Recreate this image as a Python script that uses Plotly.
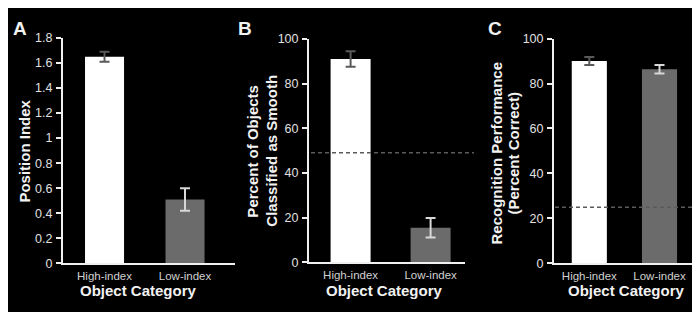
import plotly.graph_objects as go

W, H = 700, 312

categories = ["High-index", "Low-index"]

# Panel A: Position Index
a_values = [1.65, 0.51]
a_errors = [0.04, 0.09]
a_ticks = [0, 0.2, 0.4, 0.6, 0.8, 1.0, 1.2, 1.4, 1.6, 1.8]
a_ticktext = ["0", "0.2", "0.4", "0.6", "0.8", "1", "1.2", "1.4", "1.6", "1.8"]

# Panel B: Percent classified as smooth
b_values = [91, 15.5]
b_errors = [3.5, 4.4]
b_chance = 49
b_ticks = [0, 20, 40, 60, 80, 100]

# Panel C: Recognition performance
c_values = [90, 86.4]
c_errors = [1.8, 1.9]
c_chance = 25
c_ticks = [0, 20, 40, 60, 80, 100]

bar_colors = ["#ffffff", "#6b6b6b"]
err_colors = ["#5a5a5a", "#d8d8d8"]
xpos = [0, 1]

FONT = "Liberation Sans, Arial, sans-serif"

def px_x(p):
    return p / W

def px_y(p):
    return 1 - p / H

panels = [
    dict(vals=a_values, errs=a_errors, ax="", xd=[55, 227], yd=[260, 24], yr=[0, 1.8],
         xr=[-0.516, 1.621], bw=0.485, ticks=a_ticks, ticktext=a_ticktext, errw=5),
    dict(vals=b_values, errs=b_errors, ax="2", xd=[301, 457], yd=[259, 25], yr=[0, 100],
         xr=[-0.52, 1.43], bw=0.5, ticks=b_ticks, ticktext=[str(t) for t in b_ticks], errw=5),
    dict(vals=c_values, errs=c_errors, ax="3", xd=[546, 688], yd=[260, 24.7], yr=[0, 100],
         xr=[-0.503, 1.52], bw=0.5, ticks=c_ticks, ticktext=[str(t) for t in c_ticks], errw=5),
]

fig = go.Figure()
layout = {}
for p in panels:
    for i in range(2):
        fig.add_trace(go.Bar(
            x=[xpos[i]], y=[p["vals"][i]], width=p["bw"],
            marker=dict(color=bar_colors[i], line=dict(width=0)),
            error_y=dict(type="data", array=[p["errs"][i]], color=err_colors[i],
                         thickness=2, width=p["errw"]),
            xaxis="x" + p["ax"], yaxis="y" + p["ax"], showlegend=False,
        ))
    ax = p["ax"]
    layout["xaxis" + ax] = dict(
        domain=[px_x(p["xd"][0]), px_x(p["xd"][1])], range=p["xr"],
        anchor="y" + ax, tickvals=xpos, ticktext=categories, ticks="",
        showline=True, linecolor="#f0f0f0", linewidth=2, showgrid=False, zeroline=False,
        tickfont=dict(family=FONT, size=11.5, color="#d0d0d0"), ticklabelstandoff=1,
    )
    layout["yaxis" + ax] = dict(
        domain=[px_y(p["yd"][0]), px_y(p["yd"][1])], range=p["yr"],
        anchor="x" + ax, tickvals=p["ticks"], ticktext=p["ticktext"], ticks="outside",
        ticklen=5, tickwidth=2, tickcolor="#f0f0f0",
        showline=True, linecolor="#f0f0f0", linewidth=2, showgrid=False, zeroline=False,
        tickfont=dict(family=FONT, size=12.5, color="#e0e0e0"), ticklabelstandoff=1,
    )

shapes = [
    dict(type="line", xref="paper", yref="y2", x0=px_x(303), x1=px_x(466),
         y0=b_chance, y1=b_chance, line=dict(color="#5a5a5a", width=1.5, dash="4px,3px"),
         layer="above"),
    dict(type="line", xref="paper", yref="y3", x0=px_x(547), x1=px_x(688),
         y0=c_chance, y1=c_chance, line=dict(color="#5a5a5a", width=1.5, dash="4px,3px"),
         layer="above"),
]

def ann(text, x, y, size, angle=0, bold=True):
    return dict(text=("<b>%s</b>" % text) if bold else text, x=px_x(x), y=px_y(y),
                xref="paper", yref="paper", showarrow=False, textangle=angle,
                font=dict(family=FONT, size=size, color="#f2f2f2"),
                xanchor="center", yanchor="middle")

annotations = [
    ann("A", 12, 14, 19),
    ann("B", 237, 14, 19),
    ann("C", 487, 14, 19),
    ann("Object Category", 130, 288, 15),
    ann("Object Category", 376, 288, 15),
    ann("Object Category", 618, 288, 15),
    ann("Position Index", 17, 143, 15, -90),
    ann("Percent of Objects", 245, 142, 15, -90),
    ann("Classified as Smooth", 264, 142, 15, -90),
    ann("Recognition Performance", 488, 145, 15, -90),
    ann("(Percent Correct)", 505, 145, 15, -90),
]

fig.update_layout(
    width=W, height=H, margin=dict(l=0, r=0, t=0, b=0),
    paper_bgcolor="#000000", plot_bgcolor="#000000",
    barmode="overlay", shapes=shapes, annotations=annotations,
    **layout,
)

fig.write_html("out.html")
